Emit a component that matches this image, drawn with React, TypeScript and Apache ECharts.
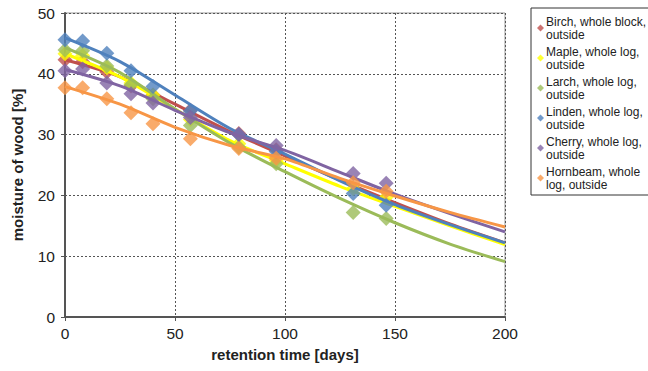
import React, { useEffect, useRef } from "react";
import * as echarts from "echarts";

// measurement days
const days = [0, 8, 19, 30, 40, 57, 79, 96, 131, 146];
const birchDays = [0, 8, 19, 30, 40, 57, 79, 96];

// measured moisture [%]
const birch = [42.3, 42.0, 40.3, 38.0, 36.5, 34.0, 30.2, 27.5];
const maple = [43.3, 43.0, 41.0, 38.5, 36.5, 32.5, 28.5, 25.8, 21.1, 19.7];
const larch = [43.9, 43.8, 41.3, 38.2, 35.9, 31.5, 27.9, 25.2, 17.2, 16.2];
const linden = [45.6, 45.4, 43.4, 40.5, 37.9, 33.9, 30.0, 27.2, 20.3, 18.4];
const cherry = [40.5, 40.8, 38.5, 36.7, 35.2, 32.8, 30.0, 28.2, 23.6, 22.0];
const hornbeam = [37.7, 37.7, 35.9, 33.6, 31.8, 29.3, 27.7, 26.1, 22.1, 20.7];

// trend-line readings
const trendDays = [0, 25, 50, 75, 100, 125, 150, 175, 200];
const birchTrend = [42.3, 39.5, 35.0, 30.5, 26.5, 22.5, 18.8, 15.3, 12.2];
const mapleTrend = [43.3, 39.5, 34.2, 29.0, 25.2, 21.5, 18.2, 15.0, 11.9];
const larchTrend = [44.3, 40.2, 34.2, 28.6, 23.9, 19.5, 15.5, 12.0, 9.1];
const lindenTrend = [45.9, 42.0, 36.5, 31.0, 26.8, 22.4, 18.5, 15.2, 12.2];
const cherryTrend = [40.7, 38.0, 34.0, 30.3, 27.4, 23.8, 20.2, 17.0, 14.0];
const hornbeamTrend = [37.9, 35.0, 31.2, 28.2, 26.0, 22.8, 19.9, 17.2, 14.8];

const names = [
  "Birch, whole block,\noutside",
  "Maple, whole log,\noutside",
  "Larch, whole log,\noutside",
  "Linden, whole log,\noutside",
  "Cherry, whole log,\noutside",
  "Hornbeam, whole\nlog, outside",
];
const colors = ["#C0504D", "#FFFF00", "#9BBB59", "#4F81BD", "#8064A2", "#F79646"];
const xTicks = [0, 50, 100, 150, 200];
const yTicks = [0, 10, 20, 30, 40, 50];

const FONT = "Liberation Sans, Arial, sans-serif";

export default function App() {
  const ref = useRef<HTMLDivElement>(null);
  useEffect(() => {
    if (!ref.current) return;
    const chart = echarts.init(ref.current, undefined, { renderer: "svg" });
    const measured = [
      { d: birchDays, v: birch, t: birchTrend },
      { d: days, v: maple, t: mapleTrend },
      { d: days, v: larch, t: larchTrend },
      { d: days, v: linden, t: lindenTrend },
      { d: days, v: cherry, t: cherryTrend },
      { d: days, v: hornbeam, t: hornbeamTrend },
    ];
    const series: any[] = [];
    measured.forEach((m, i) => {
      series.push({
        type: "line",
        name: "trend" + i,
        data: trendDays.map((d, k) => [d, m.t[k]]),
        smooth: 0.3,
        showSymbol: false,
        symbol: "none",
        silent: true,
        z: 2 + i * 2,
        lineStyle: { color: colors[i], width: 3 },
        itemStyle: { color: colors[i] },
      });
      series.push({
        type: "scatter",
        name: names[i],
        data: m.d.map((d, k) => [d, m.v[k]]),
        symbol: "diamond",
        symbolSize: 15,
        z: 3 + i * 2,
        itemStyle: { color: colors[i] },
      });
    });
    chart.setOption({
      animation: false,
      backgroundColor: "#fff",
      textStyle: { fontFamily: FONT },
      grid: {
        left: 65,
        right: 143,
        top: 13,
        bottom: 54,
        show: true,
        borderColor: "#999",
        borderWidth: 1,
      },
      legend: {
        orient: "vertical",
        left: 531,
        top: 8,
        padding: [7, 6, 4, 6],
        borderColor: "#333",
        borderWidth: 1,
        itemWidth: 7,
        itemHeight: 7,
        itemGap: 4,
        icon: "diamond",
        data: names,
        textStyle: {
          fontFamily: FONT,
          fontSize: 12,
          lineHeight: 13,
          color: "#222",
          padding: [0, 0, 0, -3],
        },
      },
      xAxis: {
        type: "value",
        min: xTicks[0],
        max: xTicks[xTicks.length - 1],
        interval: 50,
        name: "retention time [days]",
        nameLocation: "middle",
        nameGap: 30,
        nameTextStyle: { fontFamily: FONT, fontSize: 15, fontWeight: "bold", color: "#222" },
        axisLine: { show: true, lineStyle: { color: "#555", width: 2 } },
        axisTick: { show: true, length: 4, lineStyle: { color: "#555" } },
        axisLabel: { fontFamily: FONT, fontSize: 15.5, color: "#222", margin: 8 },
        splitLine: { show: true, lineStyle: { color: "#555", type: [2, 2], width: 1 } },
      },
      yAxis: {
        type: "value",
        min: yTicks[0],
        max: yTicks[yTicks.length - 1],
        interval: 10,
        name: "moisture of wood [%]",
        nameLocation: "middle",
        nameGap: 40,
        nameRotate: 90,
        nameTextStyle: { fontFamily: FONT, fontSize: 15, fontWeight: "bold", color: "#222" },
        axisLine: { show: true, lineStyle: { color: "#555", width: 2 } },
        axisTick: { show: true, length: 4, lineStyle: { color: "#555" } },
        axisLabel: { fontFamily: FONT, fontSize: 15.5, color: "#222", margin: 10 },
        splitLine: { show: true, lineStyle: { color: "#555", type: [2, 2], width: 1 } },
      },
      series,
    });
    return () => chart.dispose();
  }, []);
  return (
    <div
      ref={ref}
      style={{ width: 648, height: 371, position: "absolute", left: 0, top: 0 }}
    />
  );
}
